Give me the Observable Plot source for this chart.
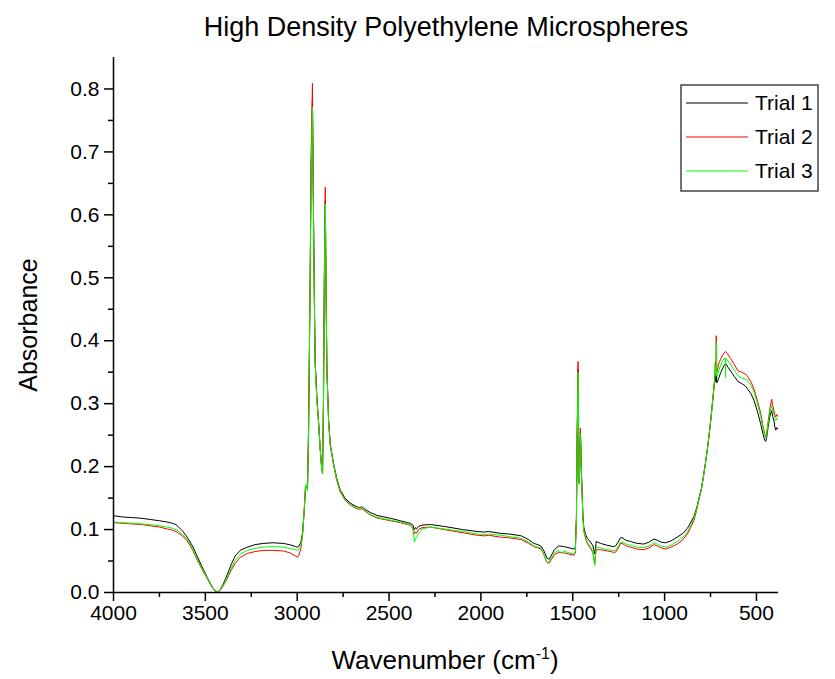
<!DOCTYPE html>
<html><head><meta charset="utf-8">
<script src="https://cdn.jsdelivr.net/npm/d3@7"></script>
<script src="https://cdn.jsdelivr.net/npm/@observablehq/plot@0.6"></script>
<style>body{margin:0;background:#fff;font-family:"Liberation Sans",Arial,sans-serif}</style>
</head><body><div id="chart"></div>
<script>
const title = "High Density Polyethylene Microspheres";
const yLabel = "Absorbance";
const seriesNames = ["Trial 1", "Trial 2", "Trial 3"];
const seriesColors = ["#000000", "#ff0000", "#00ff00"];
const xTicks = [4000, 3500, 3000, 2500, 2000, 1500, 1000, 500];
const xMinorTicks = [3750, 3250, 2750, 2250, 1750, 1250, 750];
const yTicks = [0, 0.1, 0.2, 0.3, 0.4, 0.5, 0.6, 0.7, 0.8];
const yMinorTicks = [0.05, 0.15, 0.25, 0.35, 0.45, 0.55, 0.65, 0.75];

// [wavenumber, absorbance]
const trial1 = [[4000,0.122],[3950,0.120],[3900,0.119],[3850,0.118],[3800,0.116],[3750,0.114],[3708,0.112],[3680,0.110],[3660,0.108],[3649,0.105],[3625,0.098],[3599,0.088],[3570,0.074],[3545,0.058],[3520,0.042],[3490,0.024],[3465,0.010],[3445,0.002],[3436,0.000],[3420,0.004],[3400,0.015],[3381,0.028],[3360,0.044],[3338,0.058],[3310,0.067],[3272,0.072],[3230,0.076],[3185,0.078],[3130,0.079],[3076,0.078],[3040,0.076],[3010,0.073],[3000,0.072],[2990,0.074],[2980,0.080],[2971,0.095],[2962,0.130],[2955,0.165],[2950,0.168],[2944,0.165],[2938,0.260],[2930,0.480],[2924,0.680],[2917,0.780],[2912,0.620],[2906,0.450],[2902,0.365],[2893,0.310],[2884,0.273],[2875,0.230],[2866,0.196],[2862,0.191],[2857,0.300],[2852,0.500],[2847,0.622],[2843,0.480],[2838,0.352],[2829,0.273],[2820,0.236],[2802,0.205],[2785,0.182],[2766,0.163],[2740,0.150],[2711,0.142],[2675,0.136],[2660,0.135],[2647,0.136],[2630,0.132],[2602,0.127],[2560,0.122],[2493,0.118],[2439,0.114],[2400,0.111],[2384,0.110],[2370,0.107],[2362,0.100],[2357,0.103],[2350,0.101],[2340,0.105],[2320,0.107],[2275,0.108],[2200,0.105],[2100,0.100],[2021,0.097],[1980,0.096],[1960,0.097],[1894,0.094],[1850,0.093],[1800,0.091],[1780,0.090],[1760,0.087],[1740,0.084],[1712,0.078],[1690,0.076],[1674,0.074],[1660,0.068],[1645,0.058],[1639,0.054],[1627,0.053],[1615,0.060],[1600,0.068],[1576,0.074],[1550,0.073],[1520,0.071],[1494,0.069],[1486,0.072],[1480,0.120],[1476,0.250],[1471,0.355],[1467,0.220],[1465,0.175],[1461,0.220],[1458,0.255],[1454,0.200],[1449,0.160],[1445,0.125],[1440,0.104],[1430,0.092],[1421,0.086],[1403,0.080],[1390,0.074],[1384,0.066],[1380,0.061],[1376,0.072],[1372,0.081],[1349,0.078],[1312,0.075],[1280,0.073],[1267,0.074],[1255,0.079],[1240,0.087],[1231,0.087],[1210,0.083],[1185,0.081],[1150,0.078],[1113,0.077],[1085,0.080],[1058,0.085],[1040,0.083],[1020,0.080],[995,0.079],[965,0.082],[931,0.088],[900,0.094],[876,0.102],[860,0.110],[840,0.121],[825,0.135],[813,0.150],[800,0.165],[788,0.186],[778,0.205],[767,0.228],[758,0.250],[749,0.273],[740,0.300],[731,0.326],[727,0.335],[724,0.345],[721,0.335],[719,0.365],[716,0.333],[711,0.336],[706,0.340],[696,0.348],[686,0.355],[677,0.360],[668,0.364],[655,0.358],[641,0.352],[620,0.343],[600,0.335],[580,0.332],[560,0.328],[550,0.324],[530,0.316],[513,0.305],[495,0.288],[477,0.268],[463,0.250],[455,0.242],[450,0.240],[445,0.245],[437,0.262],[427,0.280],[420,0.287],[417,0.289],[412,0.280],[404,0.272],[400,0.263],[395,0.258],[390,0.262],[384,0.260]];

const trial2 = [[4000,0.111],[3950,0.110],[3900,0.109],[3850,0.108],[3800,0.106],[3750,0.104],[3708,0.101],[3680,0.099],[3660,0.097],[3649,0.095],[3625,0.090],[3599,0.082],[3570,0.068],[3545,0.052],[3520,0.038],[3490,0.022],[3465,0.009],[3445,0.002],[3436,0.000],[3420,0.003],[3400,0.012],[3381,0.022],[3360,0.035],[3338,0.046],[3310,0.056],[3272,0.062],[3230,0.065],[3185,0.067],[3130,0.067],[3076,0.066],[3040,0.063],[3010,0.058],[3000,0.056],[2990,0.060],[2980,0.070],[2971,0.090],[2962,0.128],[2955,0.165],[2950,0.168],[2944,0.163],[2938,0.260],[2930,0.490],[2924,0.700],[2917,0.809],[2912,0.630],[2906,0.455],[2902,0.365],[2893,0.310],[2884,0.272],[2875,0.228],[2866,0.193],[2862,0.189],[2857,0.310],[2852,0.520],[2847,0.644],[2843,0.490],[2838,0.352],[2829,0.272],[2820,0.234],[2802,0.202],[2785,0.178],[2766,0.160],[2740,0.147],[2711,0.139],[2675,0.133],[2660,0.132],[2647,0.133],[2630,0.129],[2602,0.123],[2560,0.118],[2493,0.114],[2439,0.111],[2400,0.108],[2384,0.107],[2370,0.103],[2362,0.093],[2357,0.096],[2350,0.094],[2340,0.100],[2320,0.103],[2275,0.104],[2200,0.100],[2100,0.095],[2021,0.091],[1980,0.090],[1960,0.091],[1894,0.088],[1850,0.087],[1800,0.085],[1780,0.084],[1760,0.081],[1740,0.078],[1712,0.073],[1690,0.071],[1674,0.069],[1660,0.062],[1645,0.051],[1639,0.047],[1627,0.047],[1615,0.053],[1600,0.060],[1576,0.064],[1550,0.063],[1520,0.061],[1494,0.059],[1486,0.063],[1480,0.115],[1476,0.250],[1471,0.367],[1467,0.220],[1465,0.173],[1461,0.225],[1458,0.261],[1454,0.200],[1449,0.158],[1445,0.120],[1440,0.098],[1430,0.085],[1421,0.078],[1403,0.070],[1390,0.063],[1384,0.052],[1380,0.046],[1376,0.060],[1372,0.068],[1349,0.068],[1312,0.066],[1280,0.064],[1267,0.064],[1255,0.069],[1240,0.078],[1231,0.078],[1210,0.074],[1185,0.072],[1150,0.069],[1113,0.068],[1085,0.071],[1058,0.076],[1040,0.074],[1020,0.071],[995,0.069],[965,0.072],[931,0.077],[900,0.084],[876,0.093],[860,0.102],[840,0.115],[825,0.131],[813,0.148],[800,0.163],[788,0.185],[778,0.204],[767,0.228],[758,0.250],[749,0.273],[740,0.300],[731,0.328],[727,0.345],[724,0.366],[721,0.347],[719,0.408],[716,0.350],[711,0.355],[706,0.363],[696,0.370],[686,0.376],[677,0.380],[668,0.383],[655,0.378],[641,0.372],[620,0.362],[600,0.352],[580,0.350],[560,0.347],[550,0.344],[530,0.335],[513,0.323],[495,0.305],[477,0.285],[463,0.262],[455,0.252],[450,0.248],[445,0.252],[437,0.270],[427,0.292],[420,0.303],[417,0.307],[412,0.298],[404,0.288],[400,0.282],[395,0.279],[390,0.283],[384,0.280]];

const trial3 = [[4000,0.112],[3950,0.111],[3900,0.110],[3850,0.109],[3800,0.108],[3750,0.106],[3708,0.104],[3680,0.102],[3660,0.100],[3649,0.098],[3625,0.092],[3599,0.085],[3570,0.070],[3545,0.054],[3520,0.039],[3490,0.023],[3465,0.009],[3445,0.002],[3436,0.000],[3420,0.004],[3400,0.013],[3381,0.024],[3360,0.038],[3338,0.051],[3310,0.061],[3272,0.067],[3230,0.070],[3185,0.072],[3130,0.073],[3076,0.072],[3040,0.070],[3010,0.068],[3000,0.067],[2990,0.069],[2980,0.075],[2971,0.090],[2962,0.130],[2955,0.170],[2950,0.172],[2944,0.162],[2938,0.255],[2930,0.480],[2924,0.670],[2917,0.771],[2912,0.610],[2906,0.445],[2902,0.360],[2893,0.305],[2884,0.270],[2875,0.228],[2866,0.194],[2862,0.190],[2857,0.300],[2852,0.495],[2847,0.617],[2843,0.475],[2838,0.348],[2829,0.270],[2820,0.234],[2802,0.203],[2785,0.180],[2766,0.161],[2740,0.148],[2711,0.140],[2675,0.134],[2660,0.134],[2647,0.135],[2630,0.130],[2602,0.124],[2560,0.119],[2493,0.115],[2439,0.112],[2400,0.109],[2384,0.108],[2370,0.100],[2362,0.080],[2357,0.085],[2350,0.088],[2340,0.094],[2320,0.101],[2275,0.104],[2200,0.101],[2100,0.097],[2021,0.093],[1980,0.092],[1960,0.093],[1894,0.091],[1850,0.089],[1800,0.087],[1780,0.086],[1760,0.083],[1740,0.080],[1712,0.074],[1690,0.072],[1674,0.071],[1660,0.063],[1645,0.050],[1639,0.048],[1627,0.049],[1615,0.055],[1600,0.063],[1576,0.067],[1560,0.062],[1550,0.066],[1520,0.063],[1494,0.061],[1486,0.065],[1480,0.115],[1476,0.245],[1471,0.350],[1467,0.215],[1465,0.172],[1461,0.220],[1458,0.252],[1454,0.195],[1449,0.158],[1445,0.120],[1440,0.099],[1430,0.087],[1421,0.080],[1403,0.072],[1390,0.065],[1384,0.050],[1380,0.043],[1376,0.062],[1372,0.072],[1349,0.071],[1312,0.068],[1280,0.067],[1267,0.067],[1255,0.072],[1240,0.080],[1231,0.080],[1210,0.077],[1185,0.075],[1150,0.072],[1113,0.071],[1085,0.074],[1058,0.079],[1040,0.077],[1020,0.074],[995,0.072],[965,0.075],[931,0.081],[900,0.088],[876,0.096],[860,0.105],[840,0.118],[825,0.133],[813,0.149],[800,0.164],[788,0.185],[778,0.204],[767,0.228],[758,0.250],[749,0.273],[740,0.300],[731,0.327],[727,0.340],[724,0.360],[721,0.344],[719,0.397],[716,0.344],[711,0.345],[706,0.352],[696,0.360],[686,0.368],[677,0.371],[669,0.372],[668,0.342],[667,0.372],[655,0.368],[641,0.363],[620,0.353],[600,0.344],[580,0.341],[560,0.339],[550,0.338],[530,0.329],[513,0.318],[495,0.300],[477,0.280],[463,0.258],[455,0.249],[450,0.246],[445,0.250],[437,0.268],[427,0.287],[420,0.295],[417,0.297],[412,0.290],[404,0.283],[400,0.277],[395,0.273],[390,0.277],[384,0.275]];

const allSeries = [trial1, trial2, trial3];
const data = allSeries.flatMap((s, i) => s.map(([w, a]) => ({w, a, series: seriesNames[i]})));

const font = "Liberation Sans, Arial, sans-serif";
const chart = Plot.plot({
  width: 835, height: 679,
  marginTop: 57, marginBottom: 87, marginLeft: 113, marginRight: 57,
  x: {domain: [4000, 380]},
  y: {domain: [0, 0.85]},
  color: {domain: seriesNames, range: seriesColors},
  style: {fontFamily: font, fontSize: "20px", color: "#000", background: "#fff", overflow: "visible"},
  marks: [
    Plot.line(data, {x: "w", y: "a", z: "series", stroke: "series", strokeWidth: 1}),
    Plot.ruleX([4000], {stroke: "#000", strokeWidth: 1.5}),
    Plot.ruleY([0], {stroke: "#000", strokeWidth: 1.5}),
    Plot.axisX(xTicks, {tickSize: 9, tickPadding: 4, strokeWidth: 1.5, fontSize: 21, tickFormat: d => String(d), label: null}),
    Plot.axisX(xMinorTicks, {tickSize: 5, strokeWidth: 1.5, tickFormat: () => "", label: null}),
    Plot.axisY(yTicks, {tickSize: 9, tickPadding: 5, strokeWidth: 1.5, fontSize: 21, tickFormat: d => d.toFixed(1), label: null}),
    Plot.axisY(yMinorTicks, {tickSize: 5, strokeWidth: 1.5, tickFormat: () => "", label: null}),
    Plot.text([title], {frameAnchor: "top", dy: -30, fontSize: 27, fill: "#000", textAnchor: "middle", lineAnchor: "middle"}),
    Plot.text([yLabel], {frameAnchor: "left", dx: -85, rotate: -90, fontSize: 25, fill: "#000", textAnchor: "middle"})
  ]
});
document.getElementById("chart").appendChild(chart);

const svg = d3.select(chart);
const xl = svg.append("text")
  .attr("x", 445).attr("y", 669)
  .attr("text-anchor", "middle")
  .attr("font-family", font).attr("font-size", 26).attr("fill", "#000");
xl.append("tspan").text("Wavenumber (cm");
xl.append("tspan").attr("dy", -10).attr("font-size", 16).text("-1");
xl.append("tspan").attr("dy", 10).text(")");

const lg = svg.append("g").attr("font-family", font).attr("font-size", 21).attr("text-anchor", "start");
lg.append("rect").attr("x", 681).attr("y", 85).attr("width", 137).attr("height", 106)
  .attr("fill", "#fff").attr("stroke", "#444").attr("stroke-width", 1.5);
seriesNames.forEach((name, i) => {
  const y = 103 + i * 34;
  lg.append("line").attr("x1", 686).attr("x2", 748).attr("y1", y).attr("y2", y)
    .attr("stroke", seriesColors[i]).attr("stroke-width", 1);
  lg.append("text").attr("x", 755).attr("y", y).attr("dy", "0.35em").attr("fill", "#000").text(name);
});
</script>
</body></html>
